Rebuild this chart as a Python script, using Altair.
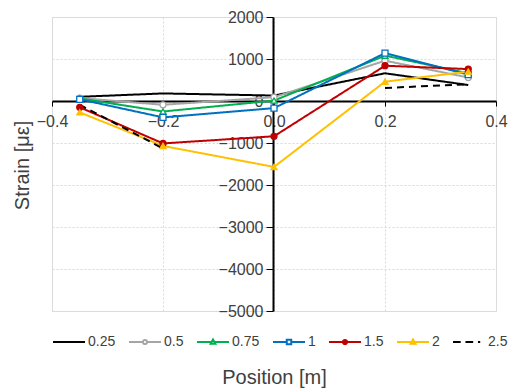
import altair as alt
import pandas as pd

FONT = "Liberation Sans"

positions = [-0.35, -0.2, 0.0, 0.2, 0.35]
series_names = ["0.25", "0.5", "0.75", "1", "1.5", "2", "2.5"]
s_025 = [100, 180, 130, 660, 380]
s_05 = [70, -90, 90, 960, 560]
s_075 = [60, -250, 10, 1080, 660]
s_1 = [40, -390, -170, 1140, 630]
s_15 = [-150, -1010, -840, 840, 760]
s_2 = [-270, -1070, -1570, 460, 700]
s_25 = [-90, -1130, None, 310, 400]
series_values = [s_025, s_05, s_075, s_1, s_15, s_2, s_25]

x_ticks = [-0.4, -0.2, 0.0, 0.2, 0.4]
y_ticks = [-5000, -4000, -3000, -2000, -1000, 0, 1000, 2000]

colors = ["#000000", "#A5A5A5", "#00B050", "#0070C0", "#C00000", "#FFC000", "#000000"]
dashes = [[1, 0], [1, 0], [1, 0], [1, 0], [1, 0], [1, 0], [7, 5]]

marker_series = ["0.5", "0.75", "1", "1.5", "2"]
marker_shapes = ["circle", "triangle-up", "square", "circle", "triangle-up"]
marker_fills = ["white", "white", "white", "#C00000", "#FFC000"]

# legend symbols: line with a small marker in the middle
P_LINE = "M-1,0H1"
P_CIRC = "M-1,0H-0.13M0.13,0H1M0.13,0A0.13,0.13,0,1,1,-0.13,0A0.13,0.13,0,1,1,0.13,0Z"
P_TRI = "M-1,0H-0.08M0.08,0H1M0,-0.15L0.15,0.11L-0.15,0.11Z"
P_SQ = "M-1,0H-0.14M0.14,0H1M-0.14,-0.14H0.14V0.14H-0.14Z"
P_DASH = "M-1,0H-0.52M-0.22,0H0.26M0.56,0H0.7"
legend_paths = [P_LINE, P_CIRC, P_TRI, P_SQ, P_CIRC, P_TRI, P_DASH]
legend_fills = ["transparent", "white", "white", "white", "#C00000", "#FFC000", "transparent"]

rows = []
for name, vals in zip(series_names, series_values):
    seg = 0
    for p, v in zip(positions, vals):
        if v is None:
            seg += 1
            continue
        rows.append({"position": p, "strain": v, "series": name, "key": f"{name}-{seg}"})
df = pd.DataFrame(rows)

color_scale = alt.Scale(domain=series_names, range=colors)

x_enc = alt.X(
    "position:Q",
    scale=alt.Scale(domain=[-0.4, 0.4], nice=False),
    axis=alt.Axis(
        values=x_ticks, format=".1f", offset=-210, title="Position [m]",
        titleY=276, titleBaseline="middle", titleFontSize=20, titleFont=FONT,
        titleFontWeight="normal", titleColor="#404040",
        labelFontSize=16, labelFont=FONT, labelColor="#404040", labelFlush=False,
        labelPadding=7, tickSize=5, tickColor="black", domainColor="black", domainWidth=2,
        grid=True, gridColor="#D9D9D9", gridDash=[2, 2], gridWidth=1,
    ),
)
y_enc = alt.Y(
    "strain:Q",
    scale=alt.Scale(domain=[-5000, 2000], nice=False),
    axis=alt.Axis(
        values=y_ticks, format="d", offset=-221, title="Strain [με]",
        titleX=-251, titleY=148, titleBaseline="middle", titleFontSize=20, titleFont=FONT,
        titleFontWeight="normal", titleColor="#404040",
        labelFontSize=16, labelFont=FONT, labelColor="#404040",
        labelPadding=3, tickSize=7, tickColor="black", domainColor="black", domainWidth=2,
        grid=True, gridColor="#D9D9D9", gridDash=[2, 2], gridWidth=1,
    ),
)

lines = alt.Chart(df).mark_line(strokeWidth=2).encode(
    x=x_enc,
    y=y_enc,
    color=alt.Color("series:N", scale=color_scale, legend=None),
    strokeDash=alt.StrokeDash("series:N", scale=alt.Scale(domain=series_names, range=dashes), legend=None),
    detail="key:N",
)

points = alt.Chart(df).transform_filter(
    alt.FieldOneOfPredicate(field="series", oneOf=marker_series)
).mark_point(filled=False, size=36, strokeWidth=1.3, opacity=1).encode(
    x="position:Q",
    y="strain:Q",
    color=alt.Color("series:N", scale=color_scale, legend=None),
    shape=alt.Shape("series:N", scale=alt.Scale(domain=marker_series, range=marker_shapes), legend=None),
    fill=alt.Fill("series:N", scale=alt.Scale(domain=marker_series, range=marker_fills), legend=None),
)

leg = alt.Legend(
    title=None, orient="none", legendX=0, legendY=308, direction="horizontal", columns=7,
    symbolStrokeWidth=2, symbolSize=1024, symbolOpacity=1,
    labelFontSize=14, labelFont=FONT, labelColor="#404040", labelOffset=2, columnPadding=9,
)
legend_layer = alt.Chart(pd.DataFrame({"series": series_names})).mark_point(
    opacity=0, size=1024, filled=False
).encode(
    stroke=alt.Stroke("series:N", scale=alt.Scale(domain=series_names, range=colors), legend=leg),
    fill=alt.Fill("series:N", scale=alt.Scale(domain=series_names, range=legend_fills), legend=leg),
    shape=alt.Shape("series:N", scale=alt.Scale(domain=series_names, range=legend_paths), legend=leg),
)

chart = alt.layer(lines, points, legend_layer).resolve_scale(
    shape="independent", fill="independent", stroke="independent"
).properties(
    width=444, height=294,
    autosize=alt.AutoSizeParams(type="none"),
    padding={"left": 52, "top": 17, "right": 17, "bottom": 78},
).configure_view(stroke=None).configure(background="white")

chart.save("out.html", embed_options={"renderer": "svg", "actions": False})
